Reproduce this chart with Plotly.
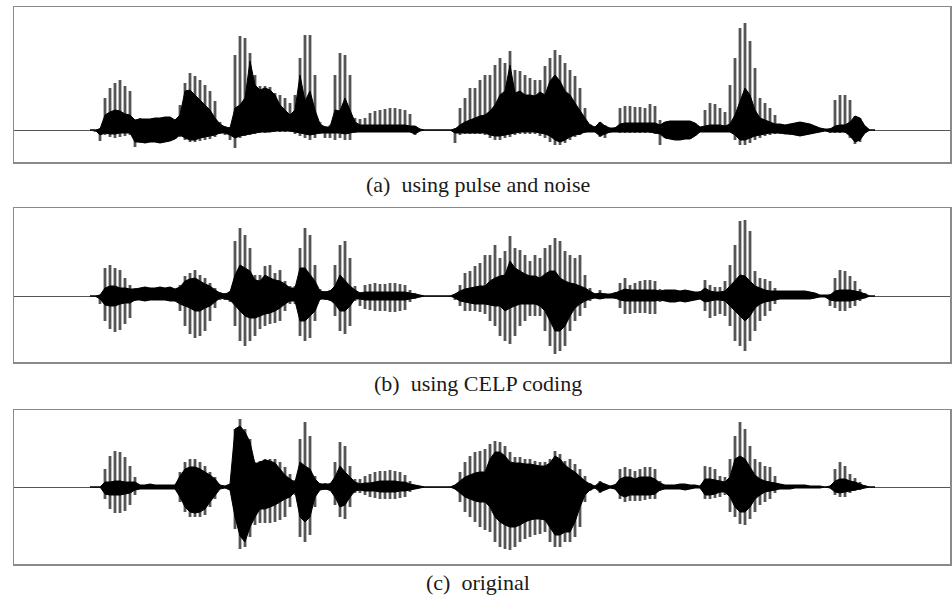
import plotly.graph_objects as go

# sample positions (time axis, arbitrary units) of the envelope readings
t = list(range(76, 866, 5))

# ---- panel (a): using pulse and noise (amplitude, px-units above/below baseline)
a_top = [0,0,2,32,42,47,50,44,39,10,
         12,11,11,12,12,13,13,10,25,47,
         57,54,50,45,39,29,8,4,3,75,
         94,92,77,55,44,44,43,37,35,32,
         27,35,72,95,95,55,8,4,5,55,
         77,75,55,12,11,12,17,19,20,21,
         22,22,21,20,16,4,1,0,0,0,
         0,0,0,2,22,32,42,42,50,55,
         55,65,72,67,79,60,59,55,52,50,
         50,64,72,80,75,67,60,54,42,22,
         6,3,8,5,2,3,22,24,24,23,
         23,22,26,24,10,8,9,9,9,9,
         9,7,3,20,27,26,22,18,45,72,
         102,107,89,62,32,27,22,15,6,5,
         6,7,8,7,6,4,2,1,2,30,
         35,35,30,14,12,4,0,0]
a_bot = [0,-2,-11,-5,-7,-8,-7,-6,-5,-17,
         -13,-13,-12,-12,-13,-12,-11,-9,-7,-10,
         -12,-12,-11,-10,-9,-7,-4,-5,-10,-18,
         -8,-6,-5,-4,-3,-3,-2,-2,-2,-2,
         -2,-4,-6,-8,-10,-8,-4,-8,-8,-10,
         -8,-10,-10,-3,-2,-2,-2,-2,-2,-2,
         -2,-2,-2,-2,-2,-5,-1,0,0,0,
         0,0,0,-13,-5,-4,-4,-4,-4,-5,
         -8,-10,-10,-8,-7,-5,-4,-4,-4,-4,
         -6,-8,-12,-15,-15,-13,-10,-7,-5,-3,
         -2,-2,-7,-8,-3,-2,-3,-3,-3,-3,
         -3,-3,-3,-4,-15,-8,-9,-10,-10,-9,
         -9,-6,-2,-2,-2,-2,-2,-2,-2,-10,
         -15,-15,-13,-10,-8,-6,-5,-4,-4,-4,
         -5,-5,-6,-5,-4,-3,-2,-1,-3,-3,
         -3,-3,-8,-14,-12,-3,0,0]
a_core_top = [0,0,1,15,18,20,19,16,15,10,
              11,11,11,12,12,13,13,10,15,39,
              40,35,30,25,20,12,6,3,2,22,
              25,32,69,45,40,42,40,35,25,20,
              15,20,55,29,39,20,6,3,3,20,
              19,32,20,8,5,5,5,5,5,5,
              5,5,5,5,4,4,1,0,0,0,
              0,0,0,1,5,8,10,12,14,15,
              19,25,35,39,65,37,39,35,35,34,
              38,35,49,55,49,39,35,27,19,12,
              5,3,8,4,2,2,6,7,7,7,
              7,7,7,7,5,8,9,9,9,9,
              9,7,3,4,5,5,5,4,6,15,
              29,42,35,20,12,10,8,6,6,5,
              6,7,8,7,6,4,2,1,1,4,
              5,5,8,14,12,4,0,0]
a_core_bot = [0,0,-5,-3,-4,-4,-3,-3,-3,-12,
              -12,-13,-12,-12,-13,-12,-11,-9,-5,-8,
              -10,-10,-8,-7,-6,-5,-3,-3,-5,-8,
              -6,-5,-4,-3,-2,-2,-2,-1,-1,-1,
              -1,-2,-3,-4,-5,-4,-3,-3,-3,-3,
              -3,-4,-3,-2,-2,-2,-2,-2,-2,-2,
              -2,-2,-2,-2,-2,-4,-1,0,0,0,
              0,0,0,-3,-3,-3,-3,-3,-3,-3,
              -5,-6,-6,-5,-4,-3,-2,-2,-2,-2,
              -3,-4,-6,-10,-12,-10,-7,-5,-4,-2,
              -2,-2,-6,-4,-2,-2,-2,-2,-2,-2,
              -2,-2,-2,-3,-4,-8,-9,-10,-10,-9,
              -9,-6,-2,-2,-2,-2,-2,-2,-2,-5,
              -10,-10,-8,-6,-5,-4,-3,-3,-3,-4,
              -4,-5,-6,-5,-4,-3,-2,-1,-2,-2,
              -2,-2,-6,-12,-10,-3,0,0]

# ---- panel (b): using CELP coding
b_top = [0,0,1,28,31,28,26,18,11,8,
         8,9,8,8,9,8,9,7,11,20,
         23,26,21,18,13,8,4,3,5,55,
         68,61,48,21,21,30,31,23,26,15,
         10,10,48,68,61,31,7,5,6,31,
         51,55,38,10,4,11,12,13,12,12,
         13,13,12,11,6,3,1,0,0,0,
         0,0,0,2,11,23,25,30,33,41,
         41,51,38,45,60,48,46,41,35,41,
         38,48,51,58,55,45,41,38,41,21,
         8,3,6,3,2,4,13,18,11,13,
         15,16,16,15,7,6,6,6,5,6,
         5,4,5,16,11,9,9,15,31,51,
         75,76,65,25,18,17,15,8,5,5,
         5,5,5,5,4,3,1,1,2,18,
         26,25,20,15,7,3,0,0]
b_bot = [0,0,-8,-25,-33,-36,-34,-28,-22,-5,
         -4,-5,-4,-4,-4,-4,-5,-5,-15,-30,
         -38,-42,-40,-35,-25,-12,-4,-4,-6,-30,
         -45,-50,-45,-40,-33,-30,-28,-27,-25,-15,
         -8,-8,-40,-45,-42,-25,-4,-4,-5,-20,
         -35,-38,-30,-5,-10,-13,-14,-15,-15,-15,
         -16,-16,-15,-14,-6,-3,-1,0,0,0,
         0,0,0,-4,-10,-15,-15,-15,-16,-18,
         -25,-30,-40,-45,-48,-40,-30,-25,-20,-20,
         -20,-35,-50,-58,-55,-50,-35,-25,-20,-12,
         -5,-2,-3,-2,-2,-3,-12,-18,-18,-17,
         -17,-17,-18,-18,-6,-5,-6,-6,-5,-6,
         -5,-4,-3,-15,-22,-20,-18,-20,-30,-45,
         -50,-55,-45,-35,-25,-20,-15,-8,-3,-3,
         -3,-3,-3,-3,-3,-2,-1,-1,-10,-12,
         -15,-15,-12,-10,-5,-2,0,0]
b_core_top = [0,0,1,8,10,10,8,8,7,7,
              8,9,8,8,9,8,9,7,9,15,
              17,18,15,12,10,6,3,2,4,21,
              31,28,25,16,15,21,18,16,15,12,
              8,8,28,28,21,15,5,4,5,10,
              21,15,10,6,3,4,4,4,4,4,
              4,4,4,4,3,2,1,0,0,0,
              0,0,0,2,5,7,8,9,10,10,
              15,18,20,21,35,28,25,22,20,20,
              18,22,25,25,18,15,13,12,10,8,
              5,2,3,2,2,3,5,7,6,6,
              6,6,6,6,5,6,6,6,5,6,
              5,4,4,8,5,4,4,5,10,15,
              21,20,15,10,8,6,5,5,5,5,
              5,5,5,5,4,3,1,1,1,5,
              6,6,6,5,4,2,0,0]
b_core_bot = [0,0,-3,-9,-10,-10,-8,-7,-7,-4,
              -4,-5,-4,-4,-4,-4,-5,-5,-8,-10,
              -12,-15,-15,-12,-10,-6,-2,-3,-4,-10,
              -15,-20,-22,-22,-20,-18,-17,-15,-12,-8,
              -5,-5,-25,-25,-20,-15,-3,-3,-4,-8,
              -15,-15,-10,-3,-3,-4,-4,-4,-4,-4,
              -4,-4,-4,-4,-3,-2,-1,0,0,0,
              0,0,0,-2,-5,-6,-7,-8,-8,-8,
              -9,-10,-10,-15,-12,-10,-8,-8,-8,-8,
              -10,-15,-25,-35,-35,-30,-20,-12,-8,-5,
              -3,-2,-3,-2,-2,-2,-4,-5,-5,-5,
              -5,-5,-5,-5,-4,-5,-6,-6,-5,-6,
              -5,-4,-3,-6,-5,-4,-4,-5,-10,-15,
              -20,-25,-20,-12,-8,-6,-5,-4,-3,-3,
              -3,-3,-3,-3,-3,-2,-1,-1,-4,-5,
              -5,-5,-5,-4,-3,-2,0,0]

# ---- panel (c): original
c_top = [0,0,0,18,31,36,35,30,21,10,
         2,2,3,2,2,2,2,2,15,25,
         28,28,25,21,15,10,2,1,3,58,
         68,58,48,25,26,28,28,28,25,20,
         13,7,48,65,51,11,4,4,4,25,
         45,41,21,8,8,11,13,15,16,16,
         17,16,15,12,6,2,1,0,0,0,
         0,0,0,2,15,25,31,35,36,38,
         43,46,45,41,35,30,30,28,28,26,
         25,25,28,36,33,26,28,23,18,11,
         4,1,6,3,1,3,18,20,18,16,
         18,20,20,18,6,2,2,2,3,3,
         2,2,1,21,20,18,11,10,28,51,
         65,58,41,28,25,21,20,11,3,2,
         2,2,2,2,1,1,1,0,1,18,
         25,21,13,9,5,2,0,0]
c_bot = [0,0,0,-12,-22,-26,-26,-24,-18,-8,
         -2,-2,-2,-2,-2,-2,-2,-2,-15,-25,
         -30,-30,-30,-28,-20,-12,-2,-1,-3,-42,
         -62,-60,-50,-38,-36,-36,-36,-35,-33,-30,
         -20,-8,-50,-55,-48,-20,-3,-3,-4,-18,
         -30,-32,-20,-6,-6,-8,-10,-11,-12,-12,
         -12,-12,-11,-10,-5,-2,-1,0,0,0,
         0,0,0,-2,-15,-25,-30,-35,-40,-43,
         -45,-55,-60,-62,-63,-60,-55,-52,-50,-48,
         -47,-45,-55,-60,-60,-55,-55,-50,-40,-15,
         -4,-1,-6,-3,-1,-2,-12,-15,-14,-14,
         -14,-13,-12,-12,-4,-2,-2,-2,-2,-3,
         -2,-1,-1,-12,-12,-11,-10,-8,-25,-30,
         -37,-38,-32,-25,-18,-15,-12,-6,-2,-2,
         -2,-1,-1,-1,-1,-1,-1,0,-1,-8,
         -10,-10,-6,-4,-3,-1,0,0]
c_core_top = [0,0,0,5,5,6,6,5,5,5,
              2,2,3,2,2,2,2,2,11,18,
              20,20,18,15,12,8,2,1,3,58,
              61,55,45,23,25,27,26,24,18,12,
              8,5,25,21,18,8,3,3,3,10,
              21,15,10,5,3,4,4,5,6,6,
              6,6,5,5,3,2,1,0,0,0,
              0,0,0,2,6,10,12,14,15,15,
              28,35,35,31,25,24,24,23,23,22,
              21,21,24,31,28,22,18,15,10,6,
              3,1,5,3,1,2,8,10,10,8,
              10,10,10,8,4,2,2,2,3,3,
              2,2,1,8,8,7,6,5,10,28,
              31,28,20,12,8,6,5,4,3,2,
              2,2,2,2,1,1,1,0,1,6,
              8,8,6,5,3,1,0,0]
c_core_bot = [0,0,0,-7,-8,-8,-8,-7,-6,-3,
              -2,-2,-2,-2,-2,-2,-2,-2,-10,-20,
              -25,-26,-25,-22,-15,-8,-2,-1,-3,-30,
              -49,-55,-40,-30,-22,-22,-20,-18,-15,-12,
              -10,-5,-30,-35,-30,-10,-3,-2,-3,-10,
              -20,-18,-10,-4,-3,-4,-4,-4,-5,-5,
              -5,-5,-4,-4,-3,-2,-1,0,0,0,
              0,0,0,-2,-6,-10,-12,-14,-15,-15,
              -20,-30,-35,-38,-40,-40,-38,-35,-33,-32,
              -32,-33,-40,-48,-48,-45,-45,-35,-20,-8,
              -3,-1,-5,-3,-1,-2,-8,-10,-8,-8,
              -8,-8,-8,-7,-3,-2,-2,-2,-2,-3,
              -2,-1,-1,-8,-8,-7,-5,-5,-10,-20,
              -25,-25,-20,-12,-8,-5,-4,-3,-2,-2,
              -2,-1,-1,-1,-1,-1,-1,0,-1,-5,
              -6,-5,-4,-3,-2,-1,0,0]

captions = ["(a)\u00a0\u00a0using pulse and noise",
            "(b)\u00a0\u00a0using CELP coding",
            "(c)\u00a0\u00a0original"]

panels = [
    (a_top, a_bot, a_core_top, a_core_bot, [-32, 123]),
    (b_top, b_bot, b_core_top, b_core_bot, [-66, 88]),
    (c_top, c_bot, c_core_top, c_core_bot, [-77, 77]),
]
for p in panels:
    for arr in p[:4]:
        assert len(arr) == len(t), (len(arr), len(t))

W, H = 952, 595
x_dom = [14 / W, 950 / W]
y_doms = [[1 - 162 / H, 1 - 7 / H],
          [1 - 362 / H, 1 - 208 / H],
          [1 - 564 / H, 1 - 410 / H]]
cap_y = [184, 383, 582]

fig = go.Figure()
for i, (top, bot, ctop, cbot, yr) in enumerate(panels):
    xa = "x" if i == 0 else f"x{i+1}"
    ya = "y" if i == 0 else f"y{i+1}"
    xs, ys = [], []
    for ti, hi, lo in zip(t, top, bot):
        xs += [ti, ti, None]
        ys += [lo, hi, None]
    fig.add_trace(go.Scatter(x=xs, y=ys, mode="lines",
                             line=dict(color="#555555", width=2.8),
                             xaxis=xa, yaxis=ya, hoverinfo="skip",
                             showlegend=False))
    fig.add_trace(go.Scatter(x=t + t[::-1], y=ctop + cbot[::-1], mode="lines",
                             fill="toself", fillcolor="#000000",
                             line=dict(color="#000000", width=1),
                             xaxis=xa, yaxis=ya, hoverinfo="skip",
                             showlegend=False))
    axis_common = dict(showgrid=False, showticklabels=False, ticks="",
                       showline=True, mirror=True, linecolor="#8a8a8a",
                       linewidth=1.5, fixedrange=True)
    fig.layout[("xaxis" if i == 0 else f"xaxis{i+1}")] = dict(
        domain=x_dom, range=[0, 936], anchor=ya, zeroline=False, **axis_common)
    fig.layout[("yaxis" if i == 0 else f"yaxis{i+1}")] = dict(
        domain=y_doms[i], range=yr, anchor=xa, zeroline=True,
        zerolinecolor="#555555", zerolinewidth=1, **axis_common)
    fig.add_annotation(text=captions[i], xref="paper", yref="paper",
                       x=478 / W, y=1 - cap_y[i] / H, xanchor="center",
                       yanchor="middle", showarrow=False,
                       font=dict(family="Liberation Serif, Times New Roman, serif",
                                 size=22, color="#1a1a1a"))

fig.update_layout(width=W, height=H, autosize=False,
                  margin=dict(l=0, r=0, t=0, b=0),
                  paper_bgcolor="white", plot_bgcolor="white")
fig.write_html("out.html",
               config={"responsive": False, "displayModeBar": False,
                       "staticPlot": True},
               default_width="952px", default_height="595px",
               post_script="document.body.style.margin='0px';"
                           "document.body.style.overflow='hidden';")
